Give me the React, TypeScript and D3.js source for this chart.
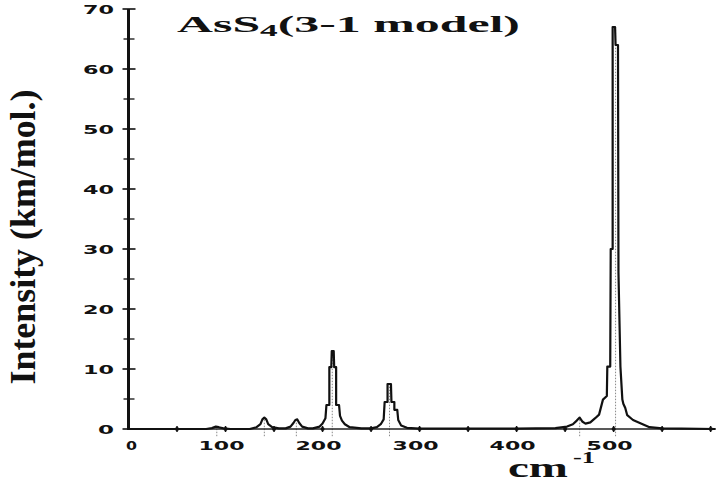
import React from "react";
import * as d3 from "d3";

// ---- data ----
const peakCenters = [91, 140, 173, 210, 269, 465, 502];
const peakHeights = [0.5, 1.9, 1.6, 13, 7.5, 1.9, 67];

const envelopeX = [
  0, 80, 86, 90, 93, 98, 105,
  125, 132, 136, 138, 140, 142, 144, 148, 155,
  162, 167, 170, 172, 174, 176, 179, 185,
  190, 197, 200, 203, 204, 207, 207, 209, 209.5, 211.5, 212, 214, 214, 217, 218, 220, 223, 228, 240,
  250, 256, 260, 263, 264, 267, 267, 270.5, 271, 274, 274, 277, 278, 281, 287, 300,
  400, 440, 452, 458, 462, 465, 468, 471, 476, 481, 485, 489, 493, 493.5, 496.5, 497, 499, 499, 501.5, 502, 504.5, 505, 505, 507, 507, 509, 510, 512, 514, 520, 527, 537, 550, 570, 605,
];
const envelopeY = [
  0, 0, 0.15, 0.4, 0.3, 0.1, 0,
  0, 0.3, 0.8, 1.6, 1.9, 1.6, 0.8, 0.3, 0.1,
  0.1, 0.4, 1.0, 1.5, 1.6, 1.0, 0.4, 0.1,
  0.1, 0.4, 0.9, 1.8, 4, 4, 10.3, 10.3, 13, 13, 10.3, 10.3, 4, 4, 2.2, 1.4, 0.8, 0.3, 0.1,
  0.1, 0.3, 0.8, 1.6, 4.5, 4.5, 7.5, 7.5, 4.5, 4.5, 3.2, 3.2, 1.5, 0.6, 0.2, 0.05,
  0.05, 0.15, 0.4, 0.8, 1.4, 1.9, 1.2, 0.9, 1.1, 1.8, 2.4, 4.9, 5.5, 10.4, 10.4, 30, 30, 67, 67, 64, 64, 26, 26, 10.4, 10.4, 4.9, 4.2, 3.5, 2.3, 1.5, 1.0, 0.3, 0.1, 0.05, 0,
];

const yMajorTicks = [0, 10, 20, 30, 40, 50, 60, 70];
const yMinorTicks = [5, 15, 25, 35, 45, 55, 65];
const xTickValues = [50, 100, 150, 200, 250, 300, 350, 400, 450, 500, 550, 600];
const xTickLabels = [0, 100, 200, 300, 400, 500];

const W = 718;
const H = 487;

export default function App() {
  const x = d3.scaleLinear().domain([0, 605]).range([128.5, 715.5]);
  const y = d3.scaleLinear().domain([0, 70]).range([429, 9]);

  const pts: [number, number][] = envelopeX.map((v, i) => [v, envelopeY[i]]);
  const line = d3
    .line<[number, number]>()
    .x((d) => x(d[0]))
    .y((d) => y(d[1]));

  const tickFont = "'DejaVu Sans', sans-serif";
  const serif = "'Liberation Serif', 'Times New Roman', serif";

  return (
    <svg
      width={W}
      height={H}
      viewBox={`0 0 ${W} ${H}`}
      style={{ position: "absolute", left: 0, top: 0, background: "#fff" }}
    >
      <rect x={0} y={0} width={W} height={H} fill="#fff" />

      {/* stick markers */}
      {peakCenters.map((c, i) => (
        <line
          key={"s" + i}
          x1={x(c)}
          x2={x(c)}
          y1={y(-1.2)}
          y2={y(peakHeights[i])}
          stroke="#888"
          strokeWidth={1}
          strokeDasharray="1.5,1.5"
        />
      ))}

      {/* x axis */}
      <line x1={x(0)} x2={x(605)} y1={y(0)} y2={y(0)} stroke="#222" strokeWidth={1.4} />
      {xTickValues.map((v) => (
        <g key={"xt" + v}>
          <line x1={x(v)} x2={x(v)} y1={y(0) - 3} y2={y(0) + 3} stroke="#111" strokeWidth={1.5} />
          <circle cx={x(v)} cy={y(0)} r={2} fill="#111" />
        </g>
      ))}
      {xTickLabels.map((v) => (
        <text
          key={"xl" + v}
          x={x(v) - (v === 0 ? -3 : 4)}
          y={450}
          textAnchor="middle"
          fontFamily={tickFont}
          fontWeight="bold"
          fontSize={12}
          textLength={v === 0 ? 11 : 46}
          lengthAdjust="spacingAndGlyphs"
          fill="#111"
        >
          {v}
        </text>
      ))}

      {/* y axis */}
      <line x1={x(0)} x2={x(0)} y1={y(0) + 1} y2={y(70)} stroke="#111" strokeWidth={3} />
      {yMajorTicks.map((v) => (
        <line key={"ym" + v} x1={x(0) - 6} x2={x(0) + 7} y1={y(v)} y2={y(v)} stroke="#111" strokeWidth={1.6} />
      ))}
      {yMinorTicks.map((v) => (
        <line key={"yn" + v} x1={x(0) - 5} x2={x(0) + 6} y1={y(v)} y2={y(v)} stroke="#111" strokeWidth={1.3} />
      ))}
      {yMajorTicks.map((v) => (
        <text
          key={"yl" + v}
          x={114}
          y={y(v) + 4.5}
          textAnchor="end"
          fontFamily={tickFont}
          fontWeight="bold"
          fontSize={12}
          textLength={v === 0 ? 16 : 31}
          lengthAdjust="spacingAndGlyphs"
          fill="#111"
        >
          {v}
        </text>
      ))}

      {/* spectrum */}
      <path d={line(pts) ?? ""} fill="none" stroke="#111" strokeWidth={2.2} strokeLinejoin="round" />

      {/* title */}
      <text
        x={177}
        y={32}
        fontFamily={serif}
        fontWeight="bold"
        fontSize={24}
        textLength={343}
        lengthAdjust="spacingAndGlyphs"
        fill="#111"
      >
        AsS
        <tspan fontSize={17} dy={4}>4</tspan>
        <tspan dy={-4}>(3-1 model)</tspan>
      </text>

      {/* y axis title */}
      <text
        transform="translate(35,237) rotate(-90)"
        textAnchor="middle"
        fontFamily={serif}
        fontWeight="bold"
        fontSize={36}
        textLength={295}
        lengthAdjust="spacingAndGlyphs"
        fill="#111"
      >
        Intensity (km/mol.)
      </text>

      {/* x axis title */}
      <text
        x={508}
        y={477}
        fontFamily={serif}
        fontWeight="bold"
        fontSize={28}
        textLength={60}
        lengthAdjust="spacingAndGlyphs"
        fill="#111"
      >
        cm
      </text>
      <text
        x={573}
        y={463}
        fontFamily={serif}
        fontWeight="bold"
        fontSize={17}
        textLength={22}
        lengthAdjust="spacingAndGlyphs"
        fill="#111"
      >
        -1
      </text>
    </svg>
  );
}
